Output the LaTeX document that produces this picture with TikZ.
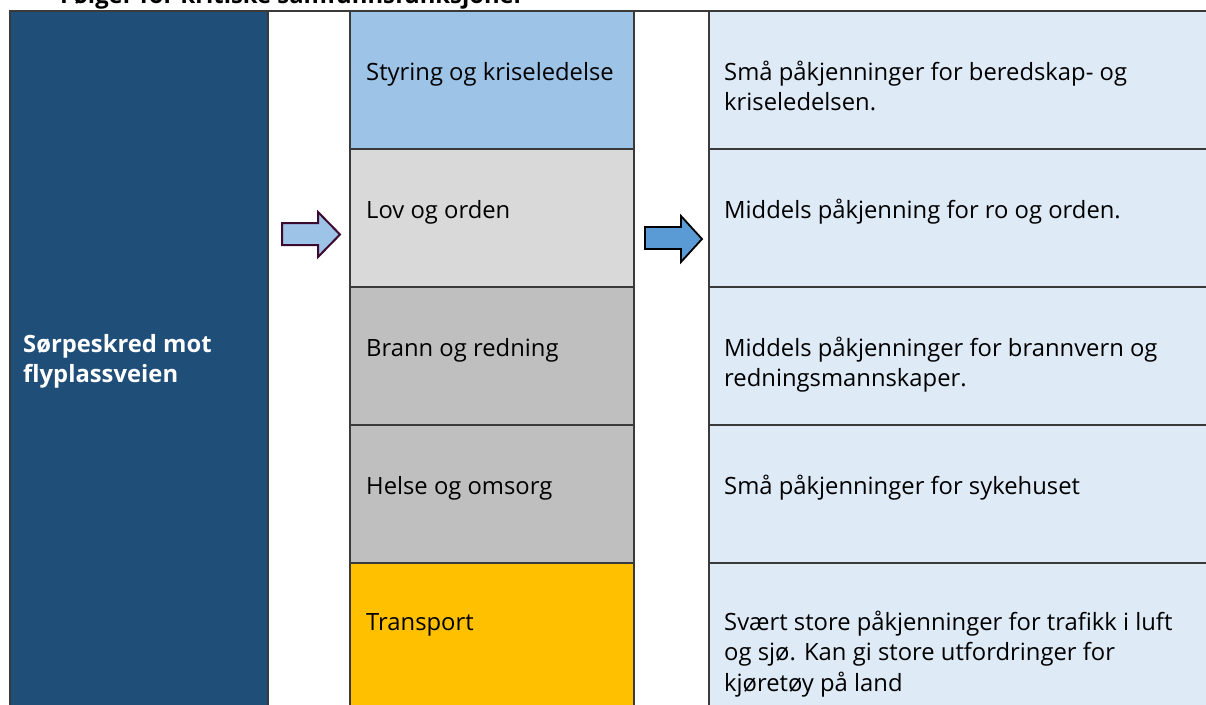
\documentclass[tikz,border=0pt]{standalone}
\usepackage{fontspec}
\setmainfont{Open Sans}
\definecolor{navy}{HTML}{1F4E79}
\definecolor{skyA}{HTML}{9DC3E6}
\definecolor{greyA}{HTML}{D9D9D9}
\definecolor{greyB}{HTML}{BFBFBF}
\definecolor{goldA}{HTML}{FFC000}
\definecolor{paleA}{HTML}{DEEAF6}
\definecolor{arrowB}{HTML}{5B9BD5}
\definecolor{maroonA}{HTML}{3B0A2E}
\definecolor{lineA}{HTML}{3A3A3A}
\newcommand{\cellrows}[1]{\begin{tabular}[t]{@{}l@{}}#1\end{tabular}}
\begin{document}
\begin{tikzpicture}[x=1pt,y=-1pt,
  cell/.style={draw=lineA, line width=1.3pt, anchor=north west, inner sep=0pt, outer sep=0pt},
  midcell/.style={cell, minimum width=284pt, minimum height=138pt},
  rightcell/.style={cell, fill=paleA, minimum width=510pt, minimum height=138pt},
  txt/.style={anchor=base west, inner sep=0pt, font=\fontsize{23.8}{30.5}\selectfont, text=black},
  blockarrow/.style={line join=miter}
]
\useasboundingbox (0,0) rectangle (1206,704);
\clip (0,0) rectangle (1206,704);
\fill[white] (0,0) rectangle (1206,704);

% title
\node[anchor=base west, inner sep=0pt, font=\fontsize{23.8}{28}\selectfont\bfseries] (title) at (60,3) {Følger for kritiske samfunnsfunksjoner};

% left merged cell
\node[cell, fill=navy, minimum width=258pt, minimum height=760pt] (left) at (10,11) {};
\node[txt, text=white, font=\fontsize{23.8}{30.5}\selectfont\bfseries] (lefttxt) at (23,352) {\cellrows{Sørpeskred mot\\flyplassveien}};

% middle cells
\node[midcell, fill=skyA]  (m1) at (350,11)  {};
\node[midcell, fill=greyA] (m2) at (350,149) {};
\node[midcell, fill=greyB] (m3) at (350,287) {};
\node[midcell, fill=greyB] (m4) at (350,425) {};
\node[midcell, fill=goldA, minimum height=200pt] (m5) at (350,563) {};

% right cells
\node[rightcell] (r1) at (709,11)  {};
\node[rightcell] (r2) at (709,149) {};
\node[rightcell] (r3) at (709,287) {};
\node[rightcell] (r4) at (709,425) {};
\node[rightcell, minimum height=200pt] (r5) at (709,563) {};

% top rule across the whole width
\draw[lineA, line width=1.3pt] (10,11) -- (1206,11);

% middle texts
\node[txt] (m1t) at (366,80)  {Styring og kriseledelse};
\node[txt] (m2t) at (366,218) {Lov og orden};
\node[txt] (m3t) at (366,356) {Brann og redning};
\node[txt] (m4t) at (366,494) {Helse og omsorg};
\node[txt] (m5t) at (366,630) {Transport};

% right texts
\node[txt] (r1t) at (724,80)  {\cellrows{Små påkjenninger for beredskap- og\\kriseledelsen.}};
\node[txt] (r2t) at (724,218) {Middels påkjenning for ro og orden.};
\node[txt] (r3t) at (724,356) {\cellrows{Middels påkjenninger for brannvern og\\redningsmannskaper.}};
\node[txt] (r4t) at (724,494) {Små påkjenninger for sykehuset};
\node[txt] (r5t) at (724,630) {\cellrows{Svært store påkjenninger for trafikk i luft\\og sjø. Kan gi store utfordringer for\\kjøretøy på land}};

% block arrows
\filldraw[blockarrow, line width=2pt, fill=skyA, draw=maroonA]
  (282,223) -- (318,223) -- (318,212) -- (340,234.5) -- (318,257) -- (318,245) -- (282,245) -- cycle;
\filldraw[blockarrow, line width=1.8pt, fill=arrowB, draw=black]
  (645,227) -- (681,227) -- (681,216) -- (702,239) -- (681,262) -- (681,249) -- (645,249) -- cycle;
\end{tikzpicture}
\end{document}
